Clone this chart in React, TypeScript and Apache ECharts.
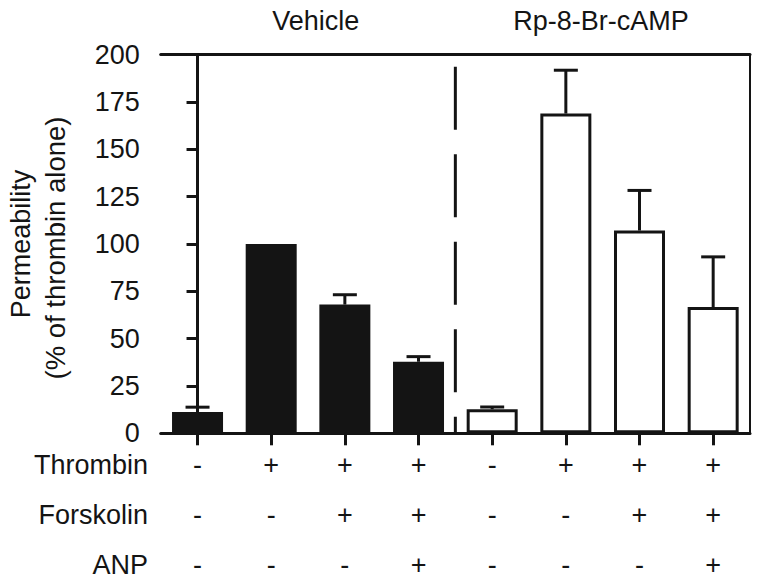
import React, { useEffect, useRef } from "react";
import * as echarts from "echarts";

const categories = ["V1", "V2", "V3", "V4", "R1", "R2", "R3", "R4"];
const groupTitles = ["Vehicle", "Rp-8-Br-cAMP"];
const rowNames = ["Thrombin", "Forskolin", "ANP"];
const thrombin = ["-", "+", "+", "+", "-", "+", "+", "+"];
const forskolin = ["-", "-", "+", "+", "-", "-", "+", "+"];
const anp = ["-", "-", "-", "+", "-", "-", "-", "+"];
const means = [11.3, 100, 68, 37.8, 12.7, 168.9, 107.1, 66.7];
const errorTops = [13.8, 100, 73.2, 40.5, 13.9, 191.8, 128.3, 93.2];
const yTicks = { min: 0, max: 200, interval: 25 };
const dividerAt = 3.5;
const dividerTop = 193.7;

const FONT = '"Liberation Sans", Arial, Helvetica, sans-serif';
const INK = "#141414";

export default function App() {
  const ref = useRef<HTMLDivElement>(null);
  useEffect(() => {
    document.body.style.margin = "0";
    if (!ref.current) return;
    const chart = echarts.init(ref.current, undefined, { renderer: "svg" });
    const option: any = {
      animation: false,
      backgroundColor: "#fff",
      grid: { left: 160.7, right: 12, top: 54.7, bottom: 151.7, containLabel: false, outerBoundsMode: "none" },
      xAxis: [
        {
          type: "category",
          data: categories,
          position: "bottom",
          axisLine: { show: true, lineStyle: { color: INK, width: 3 } },
          axisTick: { show: true, alignWithLabel: true, length: 12, lineStyle: { color: INK, width: 3 } },
          axisLabel: {
            interval: 0,
            margin: 7,
            color: INK,
            fontSize: 27,
            fontFamily: FONT,
            lineHeight: 50,
            formatter: (_v: string, i: number) => `${thrombin[i]}\n${forskolin[i]}\n${anp[i]}`,
          },
          splitLine: { show: false },
        },
        { type: "value", min: -0.5, max: 7.5, show: false },
        {
          type: "category",
          data: categories,
          position: "top",
          axisLine: { show: true, lineStyle: { color: INK, width: 3 } },
          axisTick: { show: false },
          axisLabel: { show: false },
        },
      ],
      yAxis: [
        {
          type: "value",
          min: yTicks.min,
          max: yTicks.max,
          interval: yTicks.interval,
          axisLine: { show: true, lineStyle: { color: INK, width: 3 } },
          axisTick: { show: true, length: 11, lineStyle: { color: INK, width: 3 } },
          axisLabel: { color: INK, fontSize: 27, fontFamily: FONT, margin: 21 },
          splitLine: { show: false },
        },
        {
          type: "value",
          position: "right",
          min: yTicks.min,
          max: yTicks.max,
          axisLine: { show: true, lineStyle: { color: INK, width: 2 } },
          axisTick: { show: false },
          axisLabel: { show: false },
          splitLine: { show: false },
        },
      ],
      series: [
        {
          type: "bar",
          xAxisIndex: 0,
          yAxisIndex: 0,
          barWidth: 51,
          data: means.map((v, i) => ({
            value: v,
            itemStyle:
              i < 4
                ? { color: INK }
                : { color: "#fff", borderColor: INK, borderWidth: 3 },
          })),
          z: 2,
        },
        {
          type: "custom",
          xAxisIndex: 0,
          yAxisIndex: 0,
          z: 3,
          data: means.map((m, i) => [i, m, errorTops[i]]),
          renderItem: (_params: any, api: any) => {
            const i = api.value(0);
            const p0 = api.coord([i, api.value(1)]);
            const p1 = api.coord([i, api.value(2)]);
            if (Math.abs(p0[1] - p1[1]) < 0.5) return { type: "group", children: [] };
            const style = { stroke: INK, lineWidth: 3, fill: "none" };
            return {
              type: "group",
              children: [
                { type: "line", shape: { x1: p0[0], y1: p0[1], x2: p1[0], y2: p1[1] }, style },
                { type: "line", shape: { x1: p1[0] - 12, y1: p1[1], x2: p1[0] + 12, y2: p1[1] }, style },
              ],
            };
          },
        },
        {
          type: "line",
          xAxisIndex: 1,
          yAxisIndex: 0,
          data: [
            [dividerAt, dividerTop],
            [dividerAt, 0],
          ],
          symbol: "none",
          silent: true,
          lineStyle: { color: INK, width: 3, type: [63, 24.5] },
          z: 1,
        },
      ],
      graphic: [
        {
          type: "text",
          x: 315.7,
          y: 21,
          style: { text: groupTitles[0], font: `27px ${FONT}`, fill: INK, align: "center", verticalAlign: "middle", textAlign: "center", textVerticalAlign: "middle" },
        },
        {
          type: "text",
          x: 601,
          y: 21,
          style: { text: groupTitles[1], font: `27px ${FONT}`, fill: INK, align: "center", verticalAlign: "middle", textAlign: "center", textVerticalAlign: "middle" },
        },
        ...rowNames.map((name, k) => ({
          type: "text",
          x: 148,
          y: 465 + k * 50,
          style: { text: name, font: `27px ${FONT}`, fill: INK, align: "right", verticalAlign: "middle", textAlign: "right", textVerticalAlign: "middle" },
        })),
        {
          type: "text",
          x: 21,
          y: 244,
          rotation: Math.PI / 2,
          style: { text: "Permeability", font: `27px ${FONT}`, fill: INK, align: "center", verticalAlign: "middle", textAlign: "center", textVerticalAlign: "middle" },
        },
        {
          type: "text",
          x: 55,
          y: 248,
          rotation: Math.PI / 2,
          style: { text: "(% of thrombin alone)", font: `27.5px ${FONT}`, fill: INK, align: "center", verticalAlign: "middle", textAlign: "center", textVerticalAlign: "middle" },
        },
      ],
    };
    chart.setOption(option);
    return () => chart.dispose();
  }, []);
  return <div ref={ref} style={{ width: 762, height: 585 }} />;
}
